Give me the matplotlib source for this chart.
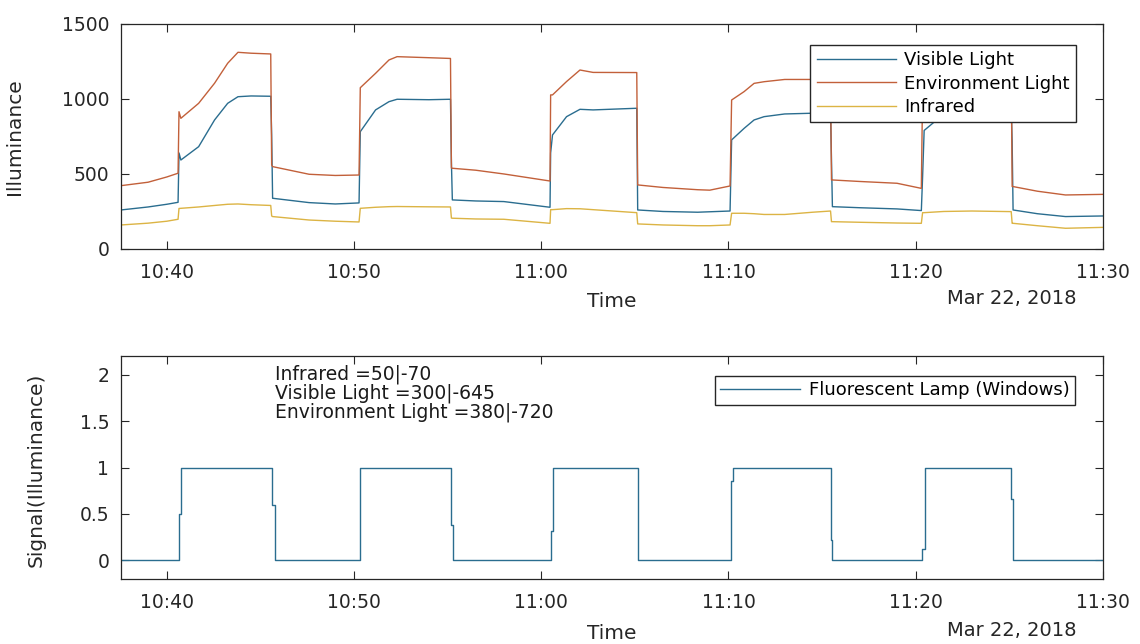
import pandas as pd
import matplotlib
matplotlib.use("Agg")
import matplotlib.pyplot as plt
from matplotlib.dates import MinuteLocator, DateFormatter

# sample times (Mar 22, 2018) for the three light sensors
times = ["10:37:33", "10:39:00", "10:40:00", "10:40:36",
         "10:40:39", "10:40:45", "10:41:42", "10:42:33", "10:43:15", "10:43:48", "10:44:30", "10:45:33",
         "10:45:36", "10:45:39", "10:47:36", "10:49:00", "10:50:16",
         "10:50:20", "10:51:09", "10:51:52", "10:52:18", "10:54:00", "10:55:09",
         "10:55:12", "10:55:15", "10:56:30", "10:58:00", "11:00:28",
         "11:00:30", "11:00:36", "11:01:21", "11:02:04", "11:02:46", "11:05:06",
         "11:05:09", "11:06:30", "11:08:21", "11:09:00", "11:10:05",
         "11:10:10", "11:10:50", "11:11:22", "11:11:54", "11:13:00", "11:14:30", "11:15:27",
         "11:15:30", "11:15:33", "11:17:00", "11:19:00", "11:20:18",
         "11:20:22", "11:20:27", "11:21:30", "11:23:00", "11:25:06",
         "11:25:09", "11:25:12", "11:26:30", "11:28:00", "11:30:00"]

visible = [260, 280, 298, 311,
           640, 593, 682, 860, 971, 1015, 1020, 1018,
           760, 338, 309, 300, 307,
           782, 927, 982, 998, 995, 998,
           580, 327, 320, 316, 278,
           640, 760, 882, 931, 927, 938,
           260, 250, 245, 248, 253,
           727, 804, 860, 882, 900, 905, 905,
           600, 282, 275, 267, 256,
           480, 790, 900, 950, 950,
           715, 260, 235, 216, 220]

environment = [422, 445, 480, 505,
               915, 871, 971, 1105, 1238, 1311, 1305, 1300,
               560, 549, 498, 490, 493,
               1075, 1171, 1260, 1282, 1275, 1270,
               540, 538, 525, 500, 453,
               1027, 1027, 1116, 1193, 1177, 1176,
               427, 410, 395, 392, 420,
               993, 1049, 1104, 1115, 1130, 1130, 1130,
               460, 460, 450, 438, 404,
               1050, 1050, 1150, 1200, 1200,
               416, 416, 385, 360, 364]

infrared = [160, 172, 185, 198,
            270, 271, 280, 290, 298, 300, 295, 290,
            220, 216, 193, 185, 180,
            271, 278, 282, 283, 281, 280,
            206, 205, 200, 198, 171,
            262, 262, 269, 268, 262, 242,
            167, 160, 155, 155, 160,
            238, 238, 235, 230, 230, 245, 253,
            182, 182, 178, 173, 171,
            242, 242, 250, 253, 249,
            171, 171, 155, 138, 144]

# lamp on/off signal
sig_times = ["10:37:33", "10:40:39", "10:40:47", "10:45:37", "10:45:46",
             "10:50:19", "10:55:12", "10:55:17", "11:00:31", "11:00:37",
             "11:05:09", "11:10:08", "11:10:14", "11:15:27", "11:15:33",
             "11:20:21", "11:20:29", "11:25:04", "11:25:11", "11:30:00"]
signal = [0, 0.5, 1, 0.6, 0,
          1, 0.38, 0, 0.32, 1,
          0, 0.86, 1, 0.22, 0,
          0.12, 1, 0.66, 0, 0]

day = "2018-03-22 "
t = pd.to_datetime([day + s for s in times])
ts = pd.to_datetime([day + s for s in sig_times])
x_start = pd.Timestamp(day + "10:37:33")
x_end = pd.Timestamp(day + "11:30:00")

plt.rcParams['font.family'] = ['DejaVu Sans']
dark = '#262626'
c_vis, c_env, c_ir = '#2a6d8f', '#c2603a', '#dcb444'

fig = plt.figure(figsize=(11.4, 6.44), dpi=100)
ax1 = fig.add_axes([0.1061, 0.6134, 0.8614, 0.3494])
ax2 = fig.add_axes([0.1061, 0.1009, 0.8614, 0.3463])

ax1.plot(t, visible, color=c_vis, lw=1.0, label='Visible Light')
ax1.plot(t, environment, color=c_env, lw=1.0, label='Environment Light')
ax1.plot(t, infrared, color=c_ir, lw=1.0, label='Infrared')
ax1.set_ylim(0, 1500)
ax1.set_yticks([0, 500, 1000, 1500])
ax1.set_ylabel('Illuminance', fontsize=14.5, color=dark)
ax1.yaxis.set_label_coords(-0.099, 0.5)
ax1.legend(loc='upper right', bbox_to_anchor=(0.9725, 0.9067), borderaxespad=0,
           fontsize=13, frameon=True, fancybox=False, framealpha=1,
           edgecolor=dark, handlelength=4.4, handletextpad=0.45,
           labelspacing=0.3, borderpad=0.35)

ax2.step(ts, signal, where='post', color=c_vis, lw=1.0,
         label='Fluorescent Lamp (Windows)')
ax2.set_ylim(-0.2, 2.2)
ax2.set_yticks([0, 0.5, 1, 1.5, 2])
ax2.set_yticklabels(['0', '0.5', '1', '1.5', '2'])
ax2.set_ylabel('Signal(Illuminance)', fontsize=14.5, color=dark)
ax2.yaxis.set_label_coords(-0.077, 0.49)
ax2.text(0.157, 0.96,
         'Infrared =50|-70\nVisible Light =300|-645\nEnvironment Light =380|-720',
         transform=ax2.transAxes, ha='left', va='top', fontsize=13.5,
         linespacing=0.95, color='#1a1a1a')
ax2.legend(loc='upper right', bbox_to_anchor=(0.9715, 0.91), borderaxespad=0,
           fontsize=13, frameon=True, fancybox=False, framealpha=1,
           edgecolor=dark, handlelength=4.4, handletextpad=0.5, borderpad=0.3)

for ax, ty in ((ax1, -0.19), (ax2, -0.2)):
    ax.set_xlim(x_start, x_end)
    ax.xaxis.set_major_locator(MinuteLocator(byminute=[0, 10, 20, 30, 40, 50]))
    ax.xaxis.set_major_formatter(DateFormatter('%H:%M'))
    ax.tick_params(direction='in', top=True, right=True, length=6, width=0.8,
                   colors=dark, labelsize=13.5)
    ax.tick_params(axis='x', pad=10)
    ax.tick_params(axis='y', pad=8.5)
    for sp in ax.spines.values():
        sp.set_color(dark)
        sp.set_linewidth(0.9)
    ax.text(0.5, ty, 'Time', transform=ax.transAxes, ha='center', va='top',
            fontsize=14.5, color=dark)
    ax.text(0.9735, ty + 0.01, 'Mar 22, 2018', transform=ax.transAxes,
            ha='right', va='top', fontsize=14, color=dark)

fig.savefig('out.png', dpi=100, facecolor='white')
